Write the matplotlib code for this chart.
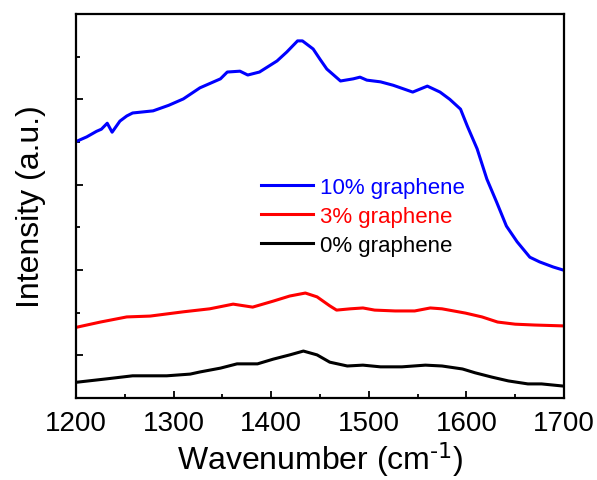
import matplotlib
matplotlib.use("Agg")
import matplotlib.pyplot as plt
from matplotlib.ticker import MultipleLocator

plt.rcParams['font.family'] = ['Liberation Sans', 'DejaVu Sans']
plt.rcParams['mathtext.default'] = 'regular'

# ---- data ----
w_blue = [1201, 1211, 1221, 1226, 1232, 1237, 1245, 1252, 1258, 1279, 1295, 1310, 1327,
          1348, 1355, 1368, 1376, 1388, 1406, 1416, 1427, 1432, 1443, 1450, 1457, 1471,
          1484, 1491, 1498, 1512, 1525, 1545, 1560, 1573, 1583, 1594, 1601, 1611, 1621,
          1631, 1641, 1652, 1665, 1675, 1689, 1699]
v_blue = [6.02, 6.12, 6.25, 6.30, 6.44, 6.23, 6.49, 6.61, 6.68, 6.73, 6.86, 7.01, 7.27,
          7.48, 7.64, 7.66, 7.57, 7.64, 7.90, 8.11, 8.37, 8.37, 8.18, 7.94, 7.71, 7.43,
          7.48, 7.52, 7.45, 7.41, 7.33, 7.17, 7.31, 7.17, 7.00, 6.77, 6.37, 5.84, 5.13,
          4.59, 4.03, 3.66, 3.30, 3.19, 3.07, 3.00]

w_red = [1201, 1225, 1252, 1276, 1310, 1337, 1361, 1381, 1402, 1419, 1435, 1447, 1460,
         1467, 1481, 1494, 1506, 1527, 1547, 1563, 1575, 1599, 1616, 1632, 1650, 1670, 1699]
v_red = [1.66, 1.78, 1.90, 1.92, 2.02, 2.09, 2.20, 2.13, 2.27, 2.39, 2.46, 2.37, 2.16,
         2.06, 2.09, 2.11, 2.06, 2.04, 2.04, 2.11, 2.09, 1.99, 1.90, 1.78, 1.73, 1.71, 1.69]

w_black = [1201, 1232, 1258, 1293, 1317, 1327, 1348, 1365, 1386, 1402, 1419, 1433, 1447,
           1460, 1478, 1494, 1512, 1534, 1558, 1575, 1596, 1609, 1626, 1643, 1663, 1677, 1699]
v_black = [0.37, 0.45, 0.52, 0.52, 0.56, 0.61, 0.70, 0.80, 0.80, 0.91, 1.01, 1.10, 1.01,
           0.84, 0.75, 0.77, 0.73, 0.73, 0.77, 0.75, 0.68, 0.59, 0.49, 0.40, 0.33, 0.33, 0.28]

labels = ['10% graphene', '3% graphene', '0% graphene']
colors = ['#0000ff', '#ff0000', '#000000']
xticks = [1200, 1300, 1400, 1500, 1600, 1700]

fig = plt.figure(figsize=(5.97, 4.81), dpi=100)
ax = fig.add_axes([0.1273, 0.1705, 0.8174, 0.7983])

lines = []
for w, v, c, lab in zip([w_blue, w_red, w_black], [v_blue, v_red, v_black], colors, labels):
    ln, = ax.plot(w, v, color=c, lw=2.2, label=lab)
    lines.append(ln)

ax.set_xlim(1200, 1700)
ax.set_ylim(0, 9)
ax.set_xticks(xticks)
ax.xaxis.set_minor_locator(MultipleLocator(50))
ax.set_yticks([1, 3, 5, 7])
ax.set_yticks([2, 4, 6, 8], minor=True)
ax.set_yticklabels([])
ax.tick_params(which='both', direction='in', top=False, right=False, width=1.3)
ax.tick_params(which='major', length=5)
ax.tick_params(which='minor', length=3)
ax.tick_params(axis='x', labelsize=20, pad=9)
for s in ax.spines.values():
    s.set_linewidth(1.6)

ax.set_xlabel(r'Wavenumber (cm$^{\text{-1}}$)', fontsize=23, labelpad=2)
ax.set_ylabel('Intensity (a.u.)', fontsize=23, labelpad=18)

leg = ax.legend(handles=lines, loc='upper left', bbox_to_anchor=(0.38, 0.575),
                frameon=False, fontsize=16, handlelength=2.3, handletextpad=0.35,
                labelspacing=0.35, borderpad=0, borderaxespad=0)
for t, c in zip(leg.get_texts(), colors):
    t.set_color(c)

fig.savefig('out.png', dpi=100)
